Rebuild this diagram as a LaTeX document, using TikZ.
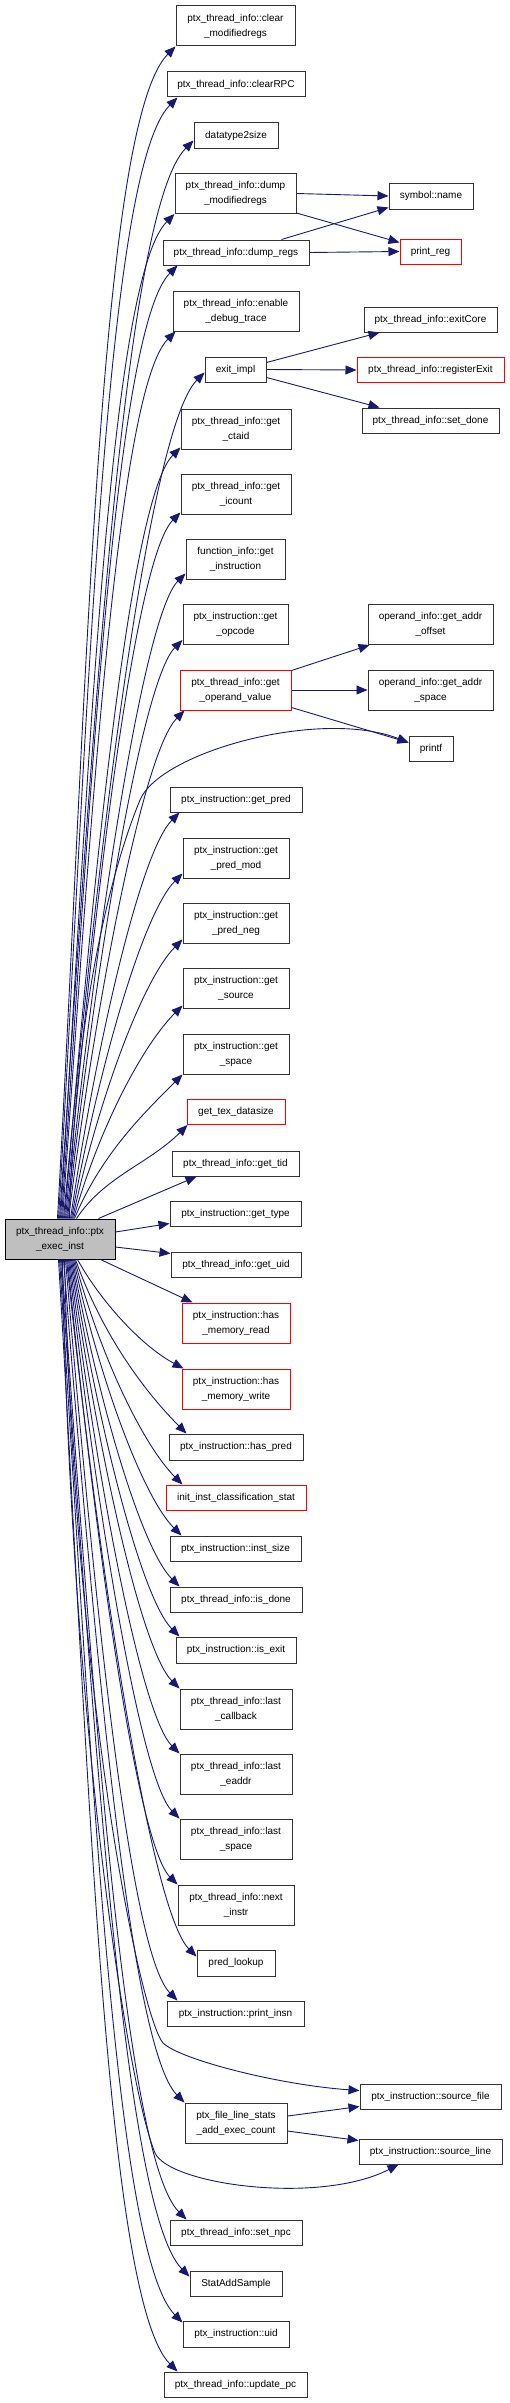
\documentclass[tikz,border=0pt]{standalone}
\usepackage{fontspec}
\setmainfont{Liberation Sans}
\usetikzlibrary{arrows.meta,calc}
\definecolor{navy}{HTML}{191970}
\definecolor{maingray}{HTML}{BFBFBF}
\tikzset{
  nbox/.style={draw=black!80, line width=1pt, fill=white, inner sep=0pt, align=center, text=black, font=\fontsize{10}{15}\selectfont},
  rnbox/.style={nbox, draw=red},
  conn/.style={draw=navy, line width=0.9pt, -{Triangle[length=11pt,width=9pt,fill=navy]}}
}
\newcommand\edgeup[2]{\draw[conn] let \p1=(#1), \p2=(#2), \n1={max(0.35*(\x2-\x1),0.065*(\y2-\y1))} in (\p1) .. controls ({\x1+0.25*(\x2-\x1)},{\y1+0.45*(\y2-\y1)}) and ({\x2-\n1},{\y2-\n1}) .. (\p2);}
\newcommand\edgedown[2]{\draw[conn] let \p1=(#1), \p2=(#2), \n1={max(0.35*(\x2-\x1),0.065*(\y1-\y2))} in (\p1) .. controls ({\x1+0.25*(\x2-\x1)},{\y1+0.45*(\y2-\y1)}) and ({\x2-\n1},{\y2+\n1}) .. (\p2);}
\begin{document}
\begin{tikzpicture}[x=1pt,y=-1pt]
\useasboundingbox (0,0) rectangle (509,2403);
% nodes
\node[nbox, minimum width=119, minimum height=40] (clrmod) at (235.5,26) {ptx\_thread\_info::clear\\\_modifiedregs};
\node[nbox, minimum width=138, minimum height=25] (clrrpc) at (236,84.5) {ptx\_thread\_info::clearRPC};
\node[nbox, minimum width=84, minimum height=25] (dt2s) at (236,135.5) {datatype2size};
\node[nbox, minimum width=121, minimum height=40] (dmod) at (235.5,193.5) {ptx\_thread\_info::dump\\\_modifiedregs};
\node[nbox, minimum width=84, minimum height=26] (symname) at (431,196) {symbol::name};
\node[nbox, minimum width=146, minimum height=25] (dregs) at (236,252.5) {ptx\_thread\_info::dump\_regs};
\node[rnbox, minimum width=61, minimum height=25] (preg) at (430.5,251.5) {print\_reg};
\node[nbox, minimum width=126, minimum height=40] (edt) at (236,311) {ptx\_thread\_info::enable\\\_debug\_trace};
\node[nbox, minimum width=133, minimum height=25] (exitcore) at (430.5,319.5) {ptx\_thread\_info::exitCore};
\node[nbox, minimum width=61, minimum height=25] (exitimpl) at (235.5,369.5) {exit\_impl};
\node[rnbox, minimum width=147, minimum height=25] (regexit) at (430.5,370) {ptx\_thread\_info::registerExit};
\node[nbox, minimum width=137, minimum height=25] (setdone) at (430.5,420.5) {ptx\_thread\_info::set\_done};
\node[nbox, minimum width=110, minimum height=40] (ctaid) at (236,429) {ptx\_thread\_info::get\\\_ctaid};
\node[nbox, minimum width=110, minimum height=40] (icount) at (236,494) {ptx\_thread\_info::get\\\_icount};
\node[nbox, minimum width=99, minimum height=40] (getinstr) at (235.5,559) {function\_info::get\\\_instruction};
\node[nbox, minimum width=105, minimum height=40] (opcode) at (235.5,624.5) {ptx\_instruction::get\\\_opcode};
\node[nbox, minimum width=125, minimum height=40] (addroff) at (430.5,624.5) {operand\_info::get\_addr\\\_offset};
\node[rnbox, minimum width=111, minimum height=40] (opval) at (235.5,690) {ptx\_thread\_info::get\\\_operand\_value};
\node[nbox, minimum width=125, minimum height=40] (addrspace) at (430.5,690) {operand\_info::get\_addr\\\_space};
\node[nbox, minimum width=44, minimum height=25] (printf) at (431,748.5) {printf};
\node[nbox, minimum width=132, minimum height=25] (pred) at (236,799.5) {ptx\_instruction::get\_pred};
\node[nbox, minimum width=106, minimum height=40] (predmod) at (236,858) {ptx\_instruction::get\\\_pred\_mod};
\node[nbox, minimum width=106, minimum height=40] (predneg) at (236,923) {ptx\_instruction::get\\\_pred\_neg};
\node[nbox, minimum width=106, minimum height=40] (source) at (236,988) {ptx\_instruction::get\\\_source};
\node[nbox, minimum width=106, minimum height=40] (space) at (236,1054) {ptx\_instruction::get\\\_space};
\node[rnbox, minimum width=98, minimum height=25] (texds) at (236,1112) {get\_tex\_datasize};
\node[nbox, minimum width=127, minimum height=25] (tid) at (235.5,1163.5) {ptx\_thread\_info::get\_tid};
\node[nbox, minimum width=131, minimum height=25] (type) at (235.5,1213.5) {ptx\_instruction::get\_type};
\node[nbox, draw=black, fill=maingray, minimum width=110, minimum height=40] (main) at (60,1239) {ptx\_thread\_info::ptx\\\_exec\_inst};
\node[nbox, minimum width=130, minimum height=25] (uidt) at (236,1264.5) {ptx\_thread\_info::get\_uid};
\node[rnbox, minimum width=108, minimum height=40] (memread) at (236,1323) {ptx\_instruction::has\\\_memory\_read};
\node[rnbox, minimum width=108, minimum height=40] (memwrite) at (236,1389) {ptx\_instruction::has\\\_memory\_write};
\node[nbox, minimum width=134, minimum height=26] (haspred) at (236,1447) {ptx\_instruction::has\_pred};
\node[rnbox, minimum width=140, minimum height=25] (iics) at (236,1497.5) {init\_inst\_classification\_stat};
\node[nbox, minimum width=131, minimum height=25] (instsize) at (235.5,1548.5) {ptx\_instruction::inst\_size};
\node[nbox, minimum width=132, minimum height=25] (isdone) at (236,1599.5) {ptx\_thread\_info::is\_done};
\node[nbox, minimum width=120, minimum height=26] (isexit) at (236,1650) {ptx\_instruction::is\_exit};
\node[nbox, minimum width=112, minimum height=40] (lastcb) at (236,1709) {ptx\_thread\_info::last\\\_callback};
\node[nbox, minimum width=112, minimum height=40] (lasteaddr) at (236,1774) {ptx\_thread\_info::last\\\_eaddr};
\node[nbox, minimum width=112, minimum height=40] (lastspace) at (236,1839) {ptx\_thread\_info::last\\\_space};
\node[nbox, minimum width=116, minimum height=40] (nextinstr) at (236,1905) {ptx\_thread\_info::next\\\_instr};
\node[nbox, minimum width=78, minimum height=26] (predlookup) at (236,1963) {pred\_lookup};
\node[nbox, minimum width=137, minimum height=25] (printinsn) at (235.5,2013.5) {ptx\_instruction::print\_insn};
\node[nbox, minimum width=141, minimum height=25] (srcfile) at (430.5,2096.5) {ptx\_instruction::source\_file};
\node[nbox, minimum width=102, minimum height=40] (flsaec) at (236,2123) {ptx\_file\_line\_stats\\\_add\_exec\_count};
\node[nbox, minimum width=143, minimum height=25] (srcline) at (430.5,2151.5) {ptx\_instruction::source\_line};
\node[nbox, minimum width=132, minimum height=25] (setnpc) at (236,2232.5) {ptx\_thread\_info::set\_npc};
\node[nbox, minimum width=92, minimum height=25] (statadd) at (236,2283.5) {StatAddSample};
\node[nbox, minimum width=106, minimum height=26] (uid) at (236,2334) {ptx\_instruction::uid};
\node[nbox, minimum width=143, minimum height=25] (updatepc) at (235.5,2384.5) {ptx\_thread\_info::update\_pc};
% upward edges from main
\edgeup{$(main.north west)+(53,0)$}{clrmod.south west}
\edgeup{$(main.north west)+(54,0)$}{$(clrrpc.south west)+(11,0)$}
\edgeup{$(main.north west)+(55,0)$}{$(dt2s.south west)+(0,-8)$}
\edgeup{$(main.north west)+(56,0)$}{dmod.south west}
\edgeup{$(main.north west)+(57,0)$}{$(dregs.south west)+(15,0)$}
\edgeup{$(main.north west)+(58,0)$}{$(edt.south west)+(3,0)$}
\edgeup{$(main.north west)+(59,0)$}{$(exitimpl.south west)+(0,-10)$}
\edgeup{$(main.north west)+(60,0)$}{$(ctaid.south west)+(0,-2)$}
\edgeup{$(main.north west)+(61,0)$}{$(icount.south west)+(0,-2)$}
\edgeup{$(main.north west)+(62,0)$}{$(getinstr.south west)+(0,-6)$}
\edgeup{$(main.north west)+(63,0)$}{$(opcode.south west)+(0,-5)$}
\edgeup{$(main.north west)+(64,0)$}{$(opval.south west)+(5,0)$}
\draw[conn] ($(main.north west)+(65,0)$) .. controls (75,1000) and (115,860) .. (140,800) .. controls (160,752) and (320,708) .. ($(printf.west)+(0,-6)$);
\edgeup{$(main.north west)+(66,0)$}{$(pred.south west)+(10,0)$}
\edgeup{$(main.north west)+(67,0)$}{$(predmod.south west)+(0,-5)$}
\edgeup{$(main.north west)+(68,0)$}{$(predneg.south west)+(0,-4)$}
\edgeup{$(main.north west)+(69,0)$}{$(source.south west)+(0,-3)$}
\edgeup{$(main.north west)+(70,0)$}{space.south west}
\edgeup{$(main.north west)+(72,0)$}{$(texds.south west)+(1,0)$}
\draw[conn] ($(main.north east)+(-17,0)$) -- ($(tid.south west)+(25,0)$);
\draw[conn] ($(main.east)+(0,-7)$) -- ($(type.west)+(0,10)$);
\draw[conn] ($(main.east)+(0,8)$) -- ($(uidt.west)+(0,-11)$);
\draw[conn] ($(main.south east)+(-15,0)$) -- ($(memread.north west)+(11,0)$);
\draw[conn] ($(main.south west)+(73,0)$) .. controls (100,1300) and (140,1345) .. ($(memwrite.north west)+(2,0)$);
% downward edges from main
\edgedown{$(main.south west)+(71,0)$}{$(haspred.north west)+(18,0)$}
\edgedown{$(main.south west)+(70,0)$}{$(iics.north west)+(17,0)$}
\edgedown{$(main.south west)+(69,0)$}{$(instsize.north west)+(12,0)$}
\edgedown{$(main.south west)+(68,0)$}{$(isdone.north west)+(10,0)$}
\edgedown{$(main.south west)+(67,0)$}{$(isexit.north west)+(4,0)$}
\edgedown{$(main.south west)+(66,0)$}{lastcb.north west}
\edgedown{$(main.south west)+(65,0)$}{lasteaddr.north west}
\edgedown{$(main.south west)+(64,0)$}{lastspace.north west}
\edgedown{$(main.south west)+(63,0)$}{nextinstr.north west}
\edgedown{$(main.south west)+(62,0)$}{$(predlookup.north west)+(0,7)$}
\edgedown{$(main.south west)+(61,0)$}{$(printinsn.north west)+(11,0)$}
\draw[conn] ($(main.south west)+(60,0)$) .. controls (75,1700) and (140,2015) .. (163,2043) .. controls (181,2060) and (280,2085) .. ($(srcfile.west)+(0,-6)$);
\edgedown{$(main.south west)+(59,0)$}{flsaec.north west}
\draw[conn] ($(main.south west)+(58,0)$) .. controls (70,1700) and (125,2080) .. (155,2153) .. controls (170,2185) and (320,2205) .. ($(srcline.south west)+(40,0)$);
\edgedown{$(main.south west)+(57,0)$}{$(setnpc.north west)+(17,0)$}
\edgedown{$(main.south west)+(56,0)$}{$(statadd.north west)+(0,6)$}
\edgedown{$(main.south west)+(55,0)$}{$(uid.north west)+(0,2)$}
\edgedown{$(main.south west)+(54,0)$}{$(updatepc.north west)+(14,0)$}
% other edges
\draw[conn] (dmod.east) -- (symname.west);
\draw[conn] ($(dmod.south east)+(0,-1)$) -- ($(preg.north west)+(0,4)$);
\draw[conn] ($(dregs.north east)+(-28,0)$) -- ($(symname.south west)+(0,-2)$);
\draw[conn] (dregs.east) -- (preg.west);
\draw[conn] ($(exitimpl.east)+(0,-7)$) -- ($(exitcore.south west)+(16,0)$);
\draw[conn] (exitimpl.east) -- (regexit.west);
\draw[conn] ($(exitimpl.east)+(0,8)$) -- ($(setdone.north west)+(18,0)$);
\draw[conn] ($(opval.north east)+(0,1)$) -- ($(addroff.south west)+(2,0)$);
\draw[conn] (opval.east) -- (addrspace.west);
\draw[conn] ($(opval.south east)+(0,-3)$) -- ($(printf.west)+(0,-6)$);
\draw[conn] ($(flsaec.east)+(0,-7)$) -- ($(srcfile.west)+(0,10)$);
\draw[conn] ($(flsaec.east)+(0,8)$) -- ($(srcline.west)+(0,-11)$);
\end{tikzpicture}
\end{document}
